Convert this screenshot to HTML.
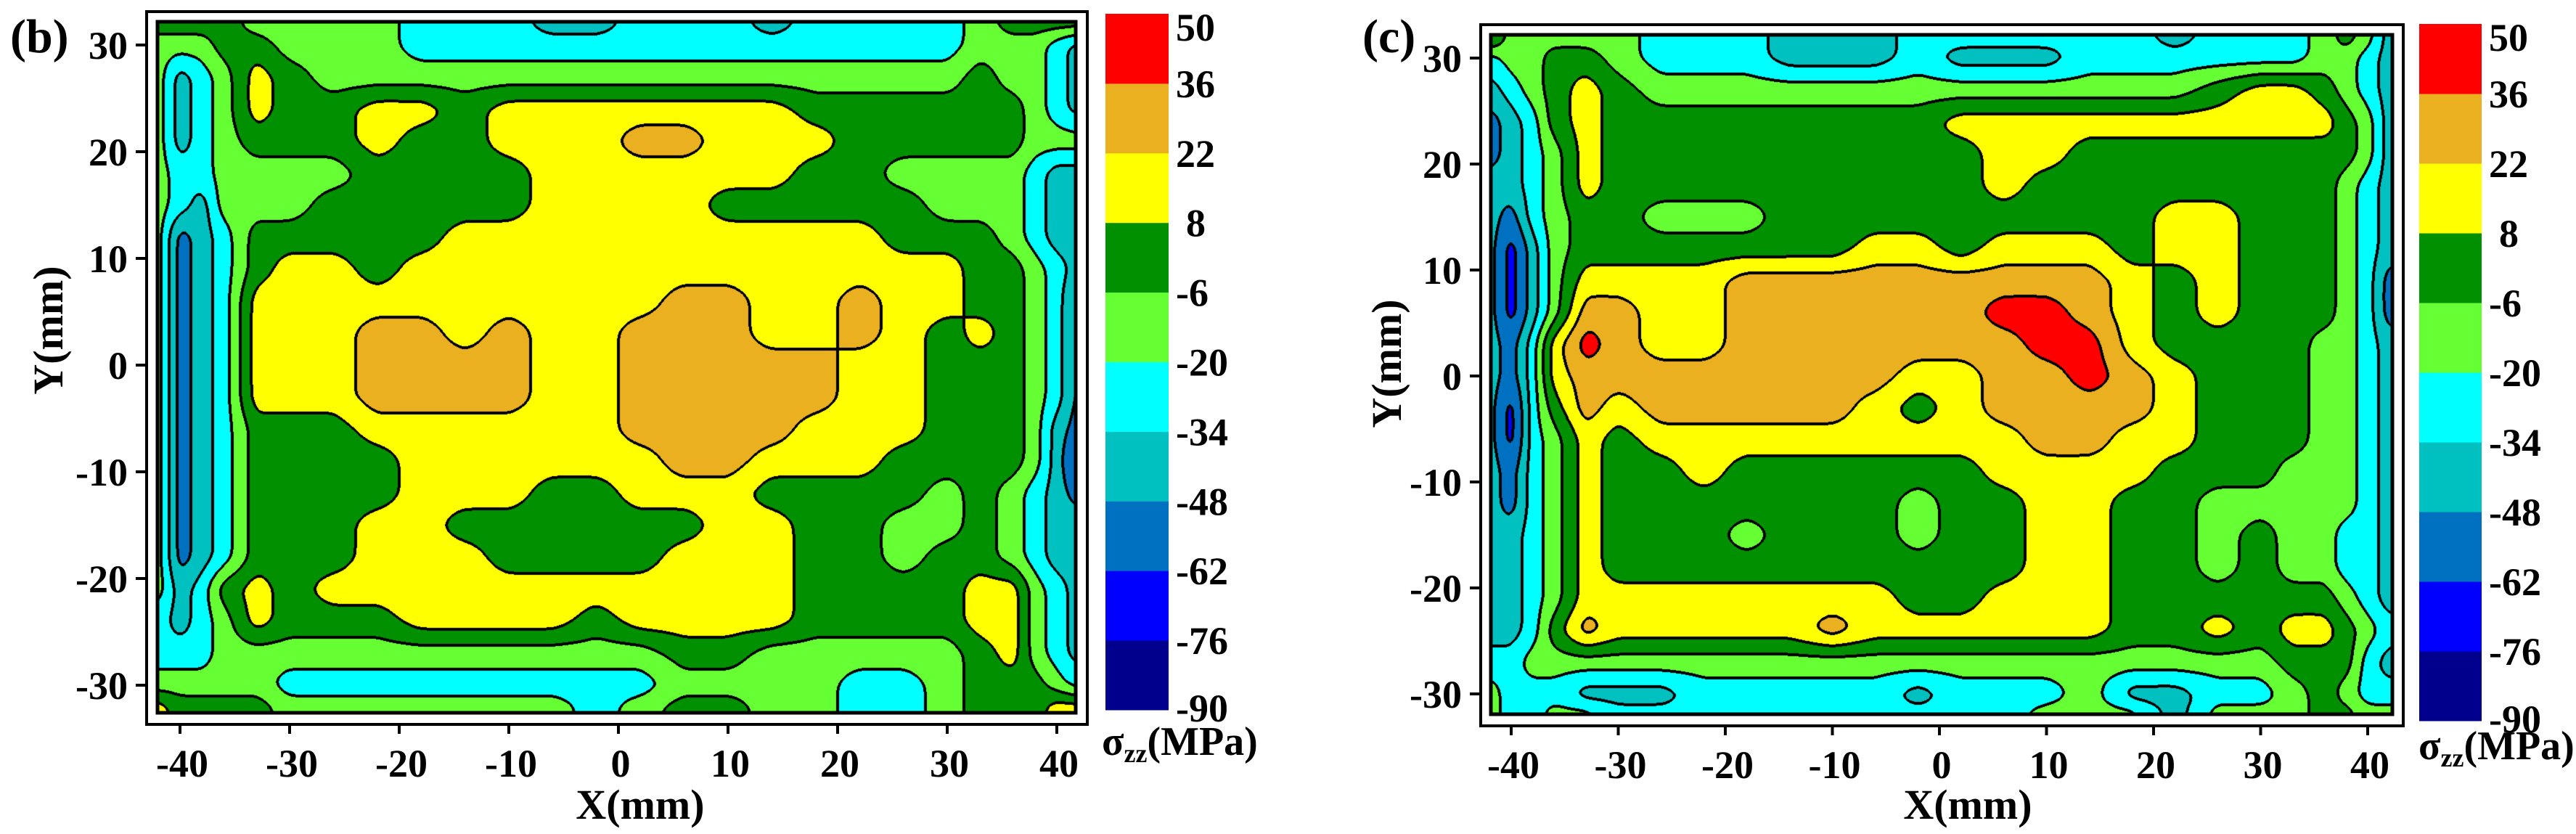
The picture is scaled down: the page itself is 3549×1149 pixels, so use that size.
<!DOCTYPE html>
<html><head><meta charset="utf-8">
<style>
html,body{margin:0;padding:0;background:#fff;}
#root{position:relative;width:3549px;height:1149px;overflow:hidden;background:#fff;font-family:"Liberation Serif",serif;font-weight:bold;color:#000;}
canvas{position:absolute;display:block;}
</style></head>
<body>
<div id="root"></div>
<script>
// ---- data ----
const levelBounds = [-90,-76,-62,-48,-34,-20,-6,8,22,36,50];
const levelColors = ["#00008c","#0000ff","#0070c0","#00c0c0","#00ffff","#66ff33","#009000","#ffff00","#ebb020","#ff0000"];
const xCoords = [-42,-40,-38,-36,-33,-30,-26,-22,-18,-14,-10,-6,-2,2,6,10,14,18,22,26,30,33,36,38,40,42];
const yCoords = [32,30,27,24,21,18,15,12,9,6,3,0,-3,-6,-9,-12,-15,-18,-21,-24,-27,-30,-32];
const xTicks = [-40,-30,-20,-10,0,10,20,30,40];
const yTicks = [30,20,10,0,-10,-20,-30];
// level-band index per grid node (0=-90..-76 ... 9=36..50), panel (b)
const panelBRows = [
[6,6,6,6,5,5,5,5,4,4,4,3,3,4,4,4,3,4,4,4,4,5,6,6,6,6],
[5,5,5,6,6,5,5,5,4,4,4,4,4,4,4,4,4,4,4,4,4,5,5,5,4,3],
[5,3,4,5,7,6,5,5,5,5,5,5,5,5,5,5,5,5,5,5,5,6,5,5,4,3],
[5,3,4,5,7,6,6,7,7,6,7,7,7,7,7,7,7,6,6,6,6,6,6,5,4,3],
[5,3,4,5,6,6,6,7,6,6,7,7,7,8,8,7,7,7,6,6,6,6,6,5,5,5],
[5,4,4,5,5,5,5,6,6,6,6,7,7,7,7,7,7,6,6,5,5,5,5,4,3,3],
[5,4,3,5,5,5,6,6,6,6,6,7,7,7,7,6,6,6,6,6,5,5,5,4,3,3],
[5,2,3,4,6,6,6,6,6,7,7,7,7,7,7,7,7,7,7,6,6,6,5,4,3,3],
[5,2,3,4,6,7,7,6,7,7,7,7,7,7,7,7,7,7,7,7,7,6,6,5,4,3],
[5,2,3,4,7,7,7,7,7,7,7,7,7,7,8,8,7,7,8,7,7,6,6,5,4,2],
[5,2,3,4,7,7,7,8,8,7,8,7,7,8,8,8,7,7,8,7,6,7,6,5,4,2],
[5,2,3,4,7,7,7,8,8,8,8,7,7,8,8,8,8,8,7,7,6,6,6,5,4,2],
[5,2,3,4,7,7,7,8,8,8,8,7,7,8,8,8,8,8,7,7,6,6,6,5,4,2],
[5,2,3,4,6,6,6,7,7,7,7,7,7,8,8,8,8,7,7,7,6,6,6,5,3,2],
[5,2,3,4,6,6,6,6,7,7,7,7,7,7,8,8,7,7,7,6,6,6,6,5,3,1],
[5,2,3,4,6,6,6,6,7,7,7,6,6,7,7,7,6,6,6,6,5,6,5,4,3,2],
[5,2,3,4,6,6,6,7,7,6,6,6,6,6,6,7,7,6,6,5,5,6,5,4,3,3],
[5,2,3,4,6,6,6,7,7,7,6,6,6,6,7,7,7,6,6,5,6,6,5,4,3,3],
[5,3,4,6,7,6,7,7,7,7,7,7,7,7,7,7,7,6,6,6,6,7,7,5,4,3],
[4,3,4,5,7,6,6,6,7,7,7,7,6,7,7,7,7,6,6,6,6,7,7,5,4,3],
[4,4,4,5,5,5,5,5,5,5,5,5,5,5,6,6,5,5,5,5,5,6,7,5,4,3],
[5,5,5,5,5,4,4,4,4,4,4,4,4,4,5,5,5,5,4,4,5,6,6,6,5,4],
[7,6,6,6,6,5,5,5,5,5,5,5,4,5,6,6,5,5,4,4,5,6,6,6,7,7]
];
// panel (c)
const panelCRows = [
[7,5,5,5,5,5,4,4,4,3,3,3,4,4,4,4,4,4,3,4,4,4,5,6,5,3],
[4,5,5,6,6,5,4,4,4,3,3,3,4,3,3,3,4,4,4,4,4,4,5,5,4,3],
[3,4,5,6,7,6,5,5,5,5,5,5,5,5,5,5,5,5,5,6,7,7,6,5,4,3],
[2,3,4,6,7,6,6,6,6,6,6,6,6,7,7,7,7,7,7,7,7,7,7,6,5,3],
[2,3,4,5,7,6,6,6,6,6,6,6,6,6,7,7,6,6,6,6,6,6,6,6,5,3],
[3,3,4,5,7,6,6,6,6,6,6,6,6,6,7,6,6,6,6,6,6,6,6,5,4,3],
[3,2,4,5,6,6,5,5,5,6,6,6,6,6,6,6,6,6,7,7,6,6,6,5,4,3],
[3,1,3,5,6,6,6,6,6,6,6,7,7,6,7,7,7,6,7,7,6,6,6,5,4,3],
[3,1,3,5,7,7,7,7,8,8,8,8,8,8,8,8,8,7,6,7,6,6,6,5,4,2],
[3,1,3,5,8,8,7,7,8,8,8,8,8,8,9,9,8,7,6,7,6,6,6,5,4,2],
[3,2,4,7,9,8,7,7,8,8,8,8,8,8,8,9,9,7,6,6,6,6,5,5,4,3],
[3,2,4,7,8,8,8,8,8,8,8,8,7,7,8,8,9,8,7,6,6,6,5,5,4,3],
[3,1,4,6,8,7,8,8,8,8,8,7,6,7,8,8,8,8,7,6,6,6,5,5,4,3],
[3,1,4,5,7,6,7,7,7,7,7,7,7,7,7,8,8,7,7,6,6,6,5,5,4,3],
[3,2,4,5,7,6,6,7,6,6,6,6,6,6,7,7,7,7,6,6,6,5,5,5,4,3],
[3,2,4,5,7,6,6,6,6,6,6,6,5,6,6,7,7,6,6,5,5,5,5,5,4,3],
[3,3,4,5,7,6,6,6,5,6,6,6,5,6,6,7,7,6,6,5,6,5,5,4,4,3],
[3,3,4,5,7,6,6,6,6,6,6,6,6,6,6,7,7,6,6,5,6,5,5,4,4,3],
[3,3,4,5,7,7,7,7,7,7,7,7,6,6,7,7,7,6,6,6,6,6,6,5,4,3],
[3,3,4,6,8,7,7,7,7,7,8,7,7,7,7,7,7,6,6,7,6,7,7,6,5,4],
[4,4,5,5,5,5,5,5,5,5,5,5,5,5,5,5,5,5,5,5,5,6,6,6,4,3],
[5,4,4,4,3,3,3,4,4,4,4,4,3,4,4,4,5,3,3,4,4,5,6,5,4,4],
[5,4,4,5,5,4,4,4,4,4,4,4,4,4,4,5,5,5,3,5,5,5,6,6,5,5]
];

// ---- layout ----
const panels = [
  {id:"b", rows:panelBRows, x0:248, pxPerX:15.1, y0:62, pxPerY:14.7,
   inner:[217,30,1482,982], outer:[202,16,1498,998], cbar:[1523,19,1610,978],
   tag:[14,72], ytitle:[66,455], xtitle:[882,1108], sigma:[1518,1040]},
  {id:"c", rows:panelCRows, x0:2082, pxPerX:14.75, y0:80, pxPerY:14.6,
   inner:[2054,48,3296,984], outer:[2040,34,3311,1000], cbar:[3333,33,3419,993],
   tag:[1877,72], ytitle:[1910,501], xtitle:[2711,1108], sigma:[3332,1046]}
];
const root = document.getElementById('root');
const svgNS = "http://www.w3.org/2000/svg";

function findSeg(arr, v, desc){
  const n = arr.length;
  for(let i=0;i<n-1;i++){
    const a=arr[i], b=arr[i+1];
    const inside = desc ? (v<=a && v>=b) : (v>=a && v<=b);
    if(inside) return [i,(v-a)/(b-a)];
  }
  if(desc ? v>arr[0] : v<arr[0]) return [0,0];
  return [n-2,1];
}
function blurH(src,dst,W,H,r){
  for(let y=0;y<H;y++){
    const o=y*W; let s=0;
    for(let k=-r;k<=r;k++) s+=src[o+Math.min(W-1,Math.max(0,k))];
    for(let x=0;x<W;x++){
      dst[o+x]=s/(2*r+1);
      s+=src[o+Math.min(W-1,x+r+1)]-src[o+Math.max(0,x-r)];
    }
  }
}
function blurV(src,dst,W,H,r){
  for(let x=0;x<W;x++){
    let s=0;
    for(let k=-r;k<=r;k++) s+=src[Math.min(H-1,Math.max(0,k))*W+x];
    for(let y=0;y<H;y++){
      dst[y*W+x]=s/(2*r+1);
      s+=src[Math.min(H-1,y+r+1)*W+x]-src[Math.max(0,y-r)*W+x];
    }
  }
}

panels.forEach(p=>{
  const sx = X => p.x0 + (X+40)*p.pxPerX;
  const sy = Y => p.y0 + (30-Y)*p.pxPerY;
  const ix = px => (px-p.x0)/p.pxPerX - 40;
  const iy = py => 30 - (py-p.y0)/p.pxPerY;
  const [L,T,R,B] = p.inner;
  const W = R-L, H = B-T;
  const cv = document.createElement('canvas');
  
  
  cv.width=W; cv.height=H;
  cv.style.left=L+'px'; cv.style.top=T+'px'; cv.style.width=W+'px'; cv.style.height=H+'px';
  root.appendChild(cv);
  const ctx = cv.getContext('2d');
  const vals = p.rows.map(r=>r.map(c=>levelBounds[c]+7));
  const colSeg=[], rowSeg=[];
  for(let x=0;x<W;x++) colSeg.push(findSeg(xCoords, ix(L+x+0.5), false));
  for(let y=0;y<H;y++) rowSeg.push(findSeg(yCoords, iy(T+y+0.5), true));
  let f = new Float32Array(W*H), g = new Float32Array(W*H);
  for(let y=0;y<H;y++){
    const [j,u]=rowSeg[y];
    for(let x=0;x<W;x++){
      const [i,t]=colSeg[x];
      f[y*W+x] = (vals[j][i]*(1-t)+vals[j][i+1]*t)*(1-u) + (vals[j+1][i]*(1-t)+vals[j+1][i+1]*t)*u;
    }
  }
  for(let pass=0;pass<2;pass++){ blurH(f,g,W,H,7); blurV(g,f,W,H,9); }
  const lv = new Uint8Array(W*H);
  for(let q=0;q<W*H;q++){
    let k = Math.floor((f[q]-levelBounds[0])/14);
    if(k<0)k=0; if(k>9)k=9;
    lv[q]=k;
  }
  const rgb = levelColors.map(h=>[parseInt(h.substr(1,2),16),parseInt(h.substr(3,2),16),parseInt(h.substr(5,2),16)]);
  const img = ctx.createImageData(W,H);
  const d = img.data;
  for(let y=0;y<H;y++){
    for(let x=0;x<W;x++){
      const k = lv[y*W+x];
      let edge=false;
      if(x+2<W && lv[y*W+x+2]!==k) edge=true;
      else if(x>=2 && lv[y*W+x-2]!==k) edge=true;
      else if(y+2<H && lv[(y+2)*W+x]!==k) edge=true;
      else if(y>=2 && lv[(y-2)*W+x]!==k) edge=true;
      const o=(y*W+x)*4;
      if(edge){d[o]=0;d[o+1]=0;d[o+2]=0;}
      else{d[o]=rgb[k][0];d[o+1]=rgb[k][1];d[o+2]=rgb[k][2];}
      d[o+3]=255;
    }
  }
  ctx.putImageData(img,0,0);

  const svg = document.createElementNS(svgNS,'svg');
  
  
  svg.setAttribute('width','3549'); svg.setAttribute('height','1149');
  svg.style.position='absolute'; svg.style.left='0'; svg.style.top='0';
  root.appendChild(svg);
  function el(tag, attrs){
    const e=document.createElementNS(svgNS,tag);
    for(const k in attrs) e.setAttribute(k,attrs[k]);
    svg.appendChild(e); return e;
  }
  const inner = el('rect',{x:L,y:T,width:W,height:H,fill:'none',stroke:'#000','stroke-width':5});
  
  
  const [oL,oT,oR,oB]=p.outer;
  const outer = el('rect',{x:oL,y:oT,width:oR-oL,height:oB-oT,fill:'none',stroke:'#000','stroke-width':4});
  
  
  yTicks.forEach(v=>{
    const y=sy(v);
    const tk=el('line',{x1:oL-15,x2:oL,y1:y,y2:y,stroke:'#000','stroke-width':4});
    
    
    const tx=el('text',{x:oL-26,y:y+19,'text-anchor':'end','font-size':54,'font-weight':'bold','font-family':'Liberation Serif, serif'});
    tx.textContent=String(v);
    
    
  });
  xTicks.forEach(v=>{
    const x=sx(v);
    const tk=el('line',{x1:x,x2:x,y1:oB,y2:oB+13,stroke:'#000','stroke-width':4});
    
    
    const tx=el('text',{x:x+3,y:oB+72,'text-anchor':'middle','font-size':54,'font-weight':'bold','font-family':'Liberation Serif, serif'});
    tx.textContent=String(v);
    
    
  });
  const [cL,cT,cR,cB]=p.cbar;
  const segH=(cB-cT)/10;
  for(let k=0;k<10;k++){
    const r=el('rect',{x:cL,y:cB-(k+1)*segH,width:cR-cL,height:segH+0.5,fill:levelColors[k]});
    
    
  }
  levelBounds.forEach((v,k)=>{
    let y=cB-k*segH;
    if(k===10) y=cT+18;
    if(k===0) y=cB-3;
    const tx=el('text',{x:cL+(cR-cL)+10+(v>=0&&v<10?14:0),y:y+19,'font-size':54,'font-weight':'bold','font-family':'Liberation Serif, serif'});
    tx.textContent=String(v);
    
    
  });
  const sg=el('text',{x:p.sigma[0],y:p.sigma[1],'font-size':56,'font-weight':'bold','font-family':'Liberation Serif, serif'});
  
  
  sg.innerHTML='σ<tspan font-size="36" dy="10">zz</tspan><tspan dy="-10">(MPa)</tspan>';
  const tag=el('text',{x:p.tag[0],y:p.tag[1],'font-size':66,'font-weight':'bold','font-family':'Liberation Serif, serif'});
  tag.textContent='('+p.id+')';
  
  
  const yt=el('text',{x:0,y:0,'text-anchor':'middle','font-size':58,'font-weight':'bold','font-family':'Liberation Serif, serif',transform:'translate('+(p.ytitle[0]+20)+','+p.ytitle[1]+') rotate(-90)'});
  yt.textContent='Y(mm)';
  
  
  const xt=el('text',{x:p.xtitle[0],y:p.xtitle[1]+20,'text-anchor':'middle','font-size':58,'font-weight':'bold','font-family':'Liberation Serif, serif'});
  xt.textContent='X(mm)';
  
  
});
</script>
</body></html>
